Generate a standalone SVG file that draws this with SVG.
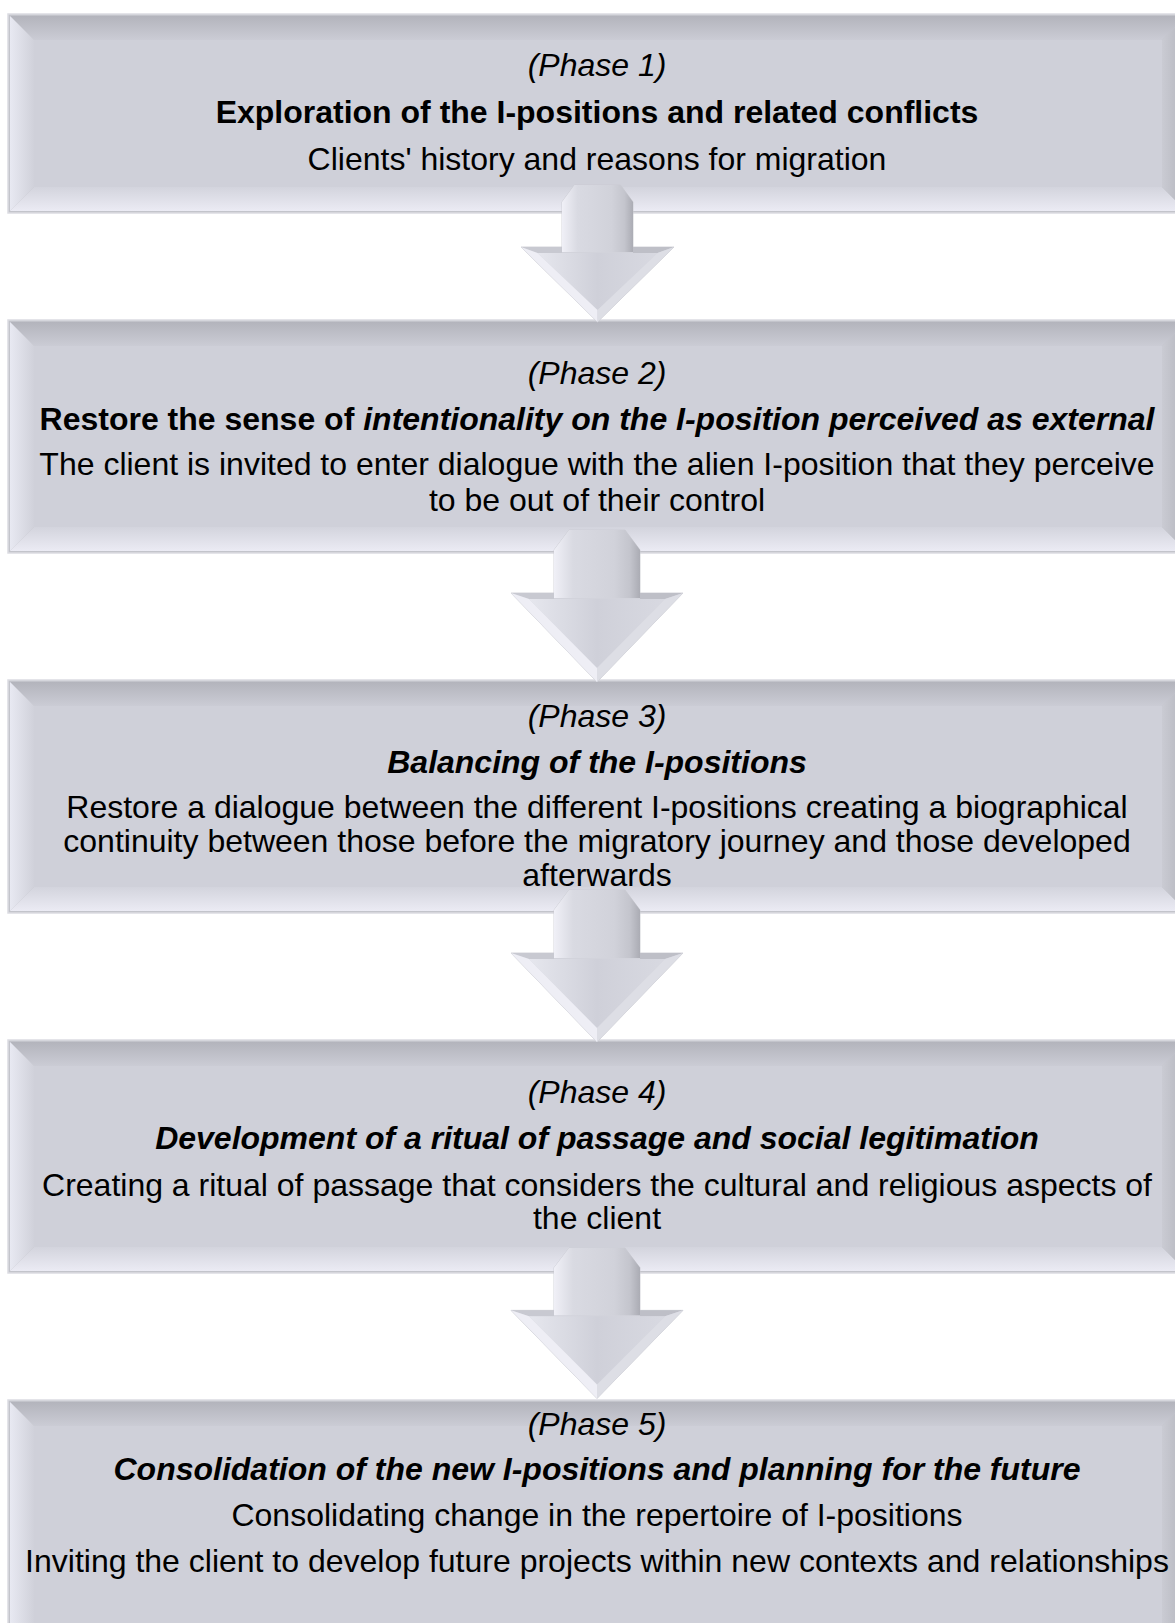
<svg xmlns="http://www.w3.org/2000/svg" xmlns:xlink="http://www.w3.org/1999/xlink" width="1175" height="1623" viewBox="0 0 1175 1623">
  <defs>
    <style>
      .frame { fill: #C3C4CB; stroke: #DCDCE2; stroke-width: 1.5; }
      .face { fill: #CFD0D9; }
      .bt { fill: url(#gTop); }
      .bb { fill: url(#gBottom); }
      .bl { fill: url(#gLeft); }
      .br { fill: url(#gRight); }
      .t { font-family: "Liberation Sans", Arial, sans-serif; font-size: 32px; fill: #000; text-anchor: middle; }
      .it { font-style: italic; }
      .b { font-weight: bold; }
      .bi { font-weight: bold; font-style: italic; }
      .aOut { fill: #D2D3DB; stroke: #C9CAD1; stroke-width: 0.8; }
      .aShaft { fill: url(#shaftGrad); }
      .aWingL { fill: #C8C9D1; }
      .aWingR { fill: #BEBFC7; }
      .aHead { fill: url(#headGrad); }
      .aBevL { fill: #EEEEF5; }
      .aBevR { fill: #DDDEE5; }
    </style>
    <linearGradient id="gTop" x1="0" y1="0" x2="0" y2="1">
      <stop offset="0" stop-color="#B3B4BC"/>
      <stop offset="1" stop-color="#CBCCD5"/>
    </linearGradient>
    <linearGradient id="gBottom" x1="0" y1="0" x2="0" y2="1">
      <stop offset="0" stop-color="#D3D4DD"/>
      <stop offset="1" stop-color="#EBEBF4"/>
    </linearGradient>
    <linearGradient id="gLeft" x1="0" y1="0" x2="1" y2="0">
      <stop offset="0" stop-color="#E8E9F2"/>
      <stop offset="1" stop-color="#D0D1DA"/>
    </linearGradient>
    <linearGradient id="gRight" x1="0" y1="0" x2="1" y2="0">
      <stop offset="0" stop-color="#CACBD3"/>
      <stop offset="1" stop-color="#B3B4BC"/>
    </linearGradient>
    <linearGradient id="shaftGrad" x1="0" y1="0" x2="1" y2="0">
      <stop offset="0" stop-color="#F0F0F7"/>
      <stop offset="0.22" stop-color="#D9DAE2"/>
      <stop offset="0.7" stop-color="#D1D2DA"/>
      <stop offset="0.88" stop-color="#C4C5CD"/>
      <stop offset="1" stop-color="#ABACB4"/>
    </linearGradient>
    <linearGradient id="headGrad" x1="0" y1="0" x2="1" y2="0">
      <stop offset="0" stop-color="#E6E7EE"/>
      <stop offset="0.5" stop-color="#CFD0D9"/>
      <stop offset="1" stop-color="#D8D9E1"/>
    </linearGradient>
    <!-- down arrow, origin at top centre of the shaft -->
    <g id="arrowShape">
      <path class="aOut" d="M-28,0 L28,0 L43,20 L43,63 L86,63 L0,152 L-86,63 L-43,63 L-43,20 Z"/>
      <path class="aShaft" d="M-28,0 L28,0 L43,20 L43,68 L-43,68 L-43,20 Z"/>
      <path class="aWingL" d="M-86,63 L-43,63 L-43,69 L-68,69 Z"/>
      <path class="aWingR" d="M86,63 L43,63 L43,69 L68,69 Z"/>
      <path class="aHead" d="M-68,69 L68,69 L0,138 Z"/>
      <path class="aBevL" d="M-86,63 L0,152 L0,138 L-68,69 Z"/>
      <path class="aBevR" d="M86,63 L0,152 L0,138 L68,69 Z"/>
    </g>
    <!-- the shorter first arrow -->
    <g id="arrowSmall">
      <path class="aOut" d="M-23,0 L23,0 L35.5,17 L35.5,62 L76.5,62 L0,137 L-76.5,62 L-35.5,62 L-35.5,17 Z"/>
      <path class="aShaft" d="M-23,0 L23,0 L35.5,17 L35.5,67 L-35.5,67 L-35.5,17 Z"/>
      <path class="aWingL" d="M-76.5,62 L-35.5,62 L-35.5,68 L-60,68 Z"/>
      <path class="aWingR" d="M76.5,62 L35.5,62 L35.5,68 L60,68 Z"/>
      <path class="aHead" d="M-60,68 L60,68 L0,125 Z"/>
      <path class="aBevL" d="M-76.5,62 L0,137 L0,125 L-60,68 Z"/>
      <path class="aBevR" d="M76.5,62 L0,137 L0,125 L60,68 Z"/>
    </g>
  </defs>

  <rect width="1175" height="1623" fill="#FFFFFF"/>

  <!-- Phase 1 -->
  <g id="phase1">
    <rect class="frame" x="8" y="14" width="1180" height="199"/>
    <rect class="face" x="34" y="40" width="1128" height="147"/>
    <polygon class="bt" points="10,16 1186,16 1162,40 34,40"/>
    <polygon class="bb" points="10,211 1186,211 1162,187 34,187"/>
    <polygon class="bl" points="10,16 34,40 34,187 10,211"/>
    <polygon class="br" points="1186,16 1162,40 1162,187 1186,211"/>
    <text class="t it" x="597" y="76">(Phase 1)</text>
    <text class="t b" x="597" y="123">Exploration of the I-positions and related conflicts</text>
    <text class="t" x="597" y="170">Clients' history and reasons for migration</text>
  </g>

  <!-- Phase 2 -->
  <g id="phase2">
    <rect class="frame" x="8" y="320" width="1180" height="233"/>
    <rect class="face" x="34" y="346" width="1128" height="181"/>
    <polygon class="bt" points="10,322 1186,322 1162,346 34,346"/>
    <polygon class="bb" points="10,551 1186,551 1162,527 34,527"/>
    <polygon class="bl" points="10,322 34,346 34,527 10,551"/>
    <polygon class="br" points="1186,322 1162,346 1162,527 1186,551"/>
    <text class="t it" x="597" y="384">(Phase 2)</text>
    <text class="t" x="597" y="430"><tspan class="b">Restore the sense of </tspan><tspan class="bi">intentionality on the I-position perceived as external</tspan></text>
    <text class="t" x="597" y="475">The client is invited to enter dialogue with the alien I-position that they perceive</text>
    <text class="t" x="597" y="511">to be out of their control</text>
  </g>

  <!-- Phase 3 -->
  <g id="phase3">
    <rect class="frame" x="8" y="680" width="1180" height="233"/>
    <rect class="face" x="34" y="706" width="1128" height="181"/>
    <polygon class="bt" points="10,682 1186,682 1162,706 34,706"/>
    <polygon class="bb" points="10,911 1186,911 1162,887 34,887"/>
    <polygon class="bl" points="10,682 34,706 34,887 10,911"/>
    <polygon class="br" points="1186,682 1162,706 1162,887 1186,911"/>
    <text class="t it" x="597" y="727">(Phase 3)</text>
    <text class="t bi" x="597" y="773">Balancing of the I-positions</text>
    <text class="t" x="597" y="818">Restore a dialogue between the different I-positions creating a biographical</text>
    <text class="t" x="597" y="852">continuity between those before the migratory journey and those developed</text>
    <text class="t" x="597" y="886">afterwards</text>
  </g>

  <!-- Phase 4 -->
  <g id="phase4">
    <rect class="frame" x="8" y="1040" width="1180" height="233"/>
    <rect class="face" x="34" y="1066" width="1128" height="181"/>
    <polygon class="bt" points="10,1042 1186,1042 1162,1066 34,1066"/>
    <polygon class="bb" points="10,1271 1186,1271 1162,1247 34,1247"/>
    <polygon class="bl" points="10,1042 34,1066 34,1247 10,1271"/>
    <polygon class="br" points="1186,1042 1162,1066 1162,1247 1186,1271"/>
    <text class="t it" x="597" y="1103">(Phase 4)</text>
    <text class="t bi" x="597" y="1149">Development of a ritual of passage and social legitimation</text>
    <text class="t" x="597" y="1196">Creating a ritual of passage that considers the cultural and religious aspects of</text>
    <text class="t" x="597" y="1229">the client</text>
  </g>

  <!-- Phase 5 (runs past the lower edge) -->
  <g id="phase5">
    <rect class="frame" x="8" y="1400" width="1180" height="260"/>
    <rect class="face" x="34" y="1426" width="1128" height="220"/>
    <polygon class="bt" points="10,1402 1186,1402 1162,1426 34,1426"/>
    <polygon class="bl" points="10,1402 34,1426 34,1660 10,1660"/>
    <polygon class="br" points="1186,1402 1162,1426 1162,1660 1186,1660"/>
    <text class="t it" x="597" y="1435">(Phase 5)</text>
    <text class="t bi" x="597" y="1480">Consolidation of the new I-positions and planning for the future</text>
    <text class="t" x="597" y="1526">Consolidating change in the repertoire of I-positions</text>
    <text class="t" x="597" y="1572">Inviting the client to develop future projects within new contexts and relationships</text>
  </g>

  <!-- connectors -->
  <g id="connectors">
    <use xlink:href="#arrowSmall" transform="translate(597.5,185)"/>
    <use xlink:href="#arrowShape" transform="translate(597,530)"/>
    <use xlink:href="#arrowShape" transform="translate(597,890)"/>
    <use xlink:href="#arrowShape" transform="translate(597,1248) scale(1,0.99)"/>
  </g>
</svg>
